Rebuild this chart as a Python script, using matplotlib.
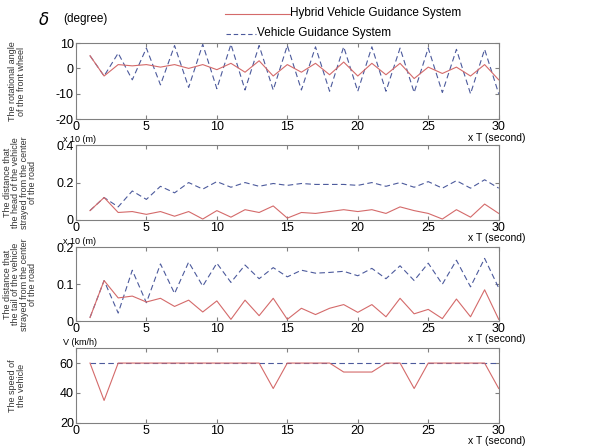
import numpy as np
import matplotlib
matplotlib.use('Agg')
import matplotlib.pyplot as plt

plt.rcParams['font.family'] = ['Liberation Sans', 'DejaVu Sans']

t = list(range(1, 31))

# rotational angle of the front wheel (degree)
angle_hybrid = [5, -3, 1.5, 1, 1.5, 0.5, 1.5, 0, 1.5, -0.5, 2, -1.5, 3, -3, 1.5,
                -1.5, 2, -2.5, 2.5, -3, 2, -2.5, 2, -4, 0.5, -2, 0.5, -3, 1.5, -4.5]
angle_vgs = [5, -3, 6, -4.5, 8, -6.5, 9, -7.5, 9.5, -8, 9.5, -8.5, 9, -8.5, 9,
             -8.5, 8.5, -9, 8.5, -9, 8.5, -9, 8, -9.5, 8, -9.5, 7.5, -10, 7.5, -10]

# head distance (x10 m)
head_hybrid = [0.05, 0.12, 0.04, 0.045, 0.03, 0.045, 0.02, 0.045, 0.005, 0.05,
               0.015, 0.055, 0.04, 0.075, 0.01, 0.04, 0.035, 0.045, 0.055, 0.045,
               0.055, 0.035, 0.07, 0.05, 0.035, 0.005, 0.055, 0.015, 0.085, 0.035]
head_vgs = [0.05, 0.12, 0.07, 0.155, 0.11, 0.18, 0.145, 0.2, 0.165, 0.205,
            0.175, 0.2, 0.18, 0.195, 0.185, 0.195, 0.19, 0.19, 0.19, 0.185,
            0.2, 0.18, 0.2, 0.175, 0.205, 0.17, 0.21, 0.17, 0.215, 0.17]

# tail distance (x10 m)
tail_hybrid = [0.01, 0.11, 0.063, 0.068, 0.052, 0.062, 0.04, 0.057, 0.025, 0.055,
               0.005, 0.057, 0.015, 0.062, 0.005, 0.035, 0.018, 0.035, 0.045, 0.024,
               0.045, 0.012, 0.062, 0.02, 0.032, 0.007, 0.06, 0.012, 0.085, 0.005]
tail_vgs = [0.01, 0.11, 0.022, 0.138, 0.05, 0.155, 0.075, 0.16, 0.095, 0.157,
            0.105, 0.152, 0.115, 0.145, 0.12, 0.138, 0.13, 0.132, 0.135, 0.123,
            0.143, 0.115, 0.15, 0.11, 0.157, 0.1, 0.165, 0.093, 0.17, 0.09]

# speed (km/h)
speed_hybrid = [60, 35, 60, 60, 60, 60, 60, 60, 60, 60, 60, 60, 60, 43, 60,
                60, 60, 60, 54, 54, 54, 60, 60, 43, 60, 60, 60, 60, 60, 43]
speed_vgs = [60] * 30

red = '#d46a6a'
blue = '#4c5a9c'
grey = '#808080'

fig = plt.figure(figsize=(5.93, 4.48), dpi=100)

left, width = 0.128, 0.713
panels = [
    (0.734, 0.170, angle_hybrid, angle_vgs, (-20, 10), [-20, -10, 0, 10],
     'The rotational angle\nof the front wheel', 17),
    (0.509, 0.167, head_hybrid, head_vgs, (0, 0.4), [0, 0.2, 0.4],
     'The distance that\nthe head of the vehicle\nstrayed from the center\nof the road', 20),
    (0.283, 0.165, tail_hybrid, tail_vgs, (0, 0.2), [0, 0.1, 0.2],
     'The distance that\nthe tail of the vehicle\nstrayed from the center\nof the road', 20),
    (0.056, 0.167, speed_hybrid, speed_vgs, (20, 70), [20, 40, 60],
     'The speed of\nthe vehicle', 17),
]

axes = []
for bottom, height, yh, yv, ylim, yticks, ylabel, labx in panels:
    ax = fig.add_axes([left, bottom, width, height])
    ax.plot(t, yv, color=blue, lw=0.8, ls=(0, (5, 3)))
    ax.plot(t, yh, color=red, lw=0.8)
    ax.set_xlim(0, 30)
    ax.set_ylim(*ylim)
    ax.set_xticks([0, 5, 10, 15, 20, 25, 30])
    ax.set_yticks(yticks)
    ax.set_yticklabels([('%g' % v) for v in yticks])
    ax.tick_params(direction='in', top=True, right=True, labelsize=9,
                   length=3, color=grey, pad=1.5)
    for s in ax.spines.values():
        s.set_color(grey)
        s.set_linewidth(0.8)
    fig.text(labx / 593, bottom + height / 2, ylabel, rotation=90,
             fontsize=6.5, color='#333333', linespacing=0.95,
             ha='center', va='center', multialignment='center')
    ax.text(0.995, -0.245, 'x T (second)', transform=ax.transAxes, fontsize=7.5,
            ha='center', va='center')
    axes.append(ax)

axes[0].text(-0.076, 1.31, r'$\delta$', transform=axes[0].transAxes,
             fontsize=12, ha='center', va='center')
axes[0].text(-0.03, 1.31, '(degree)', transform=axes[0].transAxes,
             fontsize=8.5, ha='left', va='center')
axes[1].text(-0.03, 1.08, 'x 10 (m)', transform=axes[1].transAxes,
             fontsize=6.5, ha='left', va='center')
axes[2].text(-0.03, 1.08, 'x 10 (m)', transform=axes[2].transAxes,
             fontsize=6.5, ha='left', va='center')
axes[3].text(-0.03, 1.08, 'V (km/h)', transform=axes[3].transAxes,
             fontsize=6.5, ha='left', va='center')

# legend drawn in figure coordinates, like the original
fig.lines.append(plt.Line2D([225 / 593, 290 / 593], [1 - 14 / 448, 1 - 14 / 448],
                            transform=fig.transFigure, color=red, lw=0.8))
fig.text(290 / 593, 1 - 13 / 448, 'Hybrid Vehicle Guidance System',
         fontsize=8.5, ha='left', va='center')
fig.lines.append(plt.Line2D([226 / 593, 256 / 593], [1 - 34 / 448, 1 - 34 / 448],
                            transform=fig.transFigure, color=blue, lw=0.8,
                            ls=(0, (4, 2.5))))
fig.text(257 / 593, 1 - 33 / 448, 'Vehicle Guidance System',
         fontsize=8.5, ha='left', va='center')

fig.savefig('out.png', dpi=100)
